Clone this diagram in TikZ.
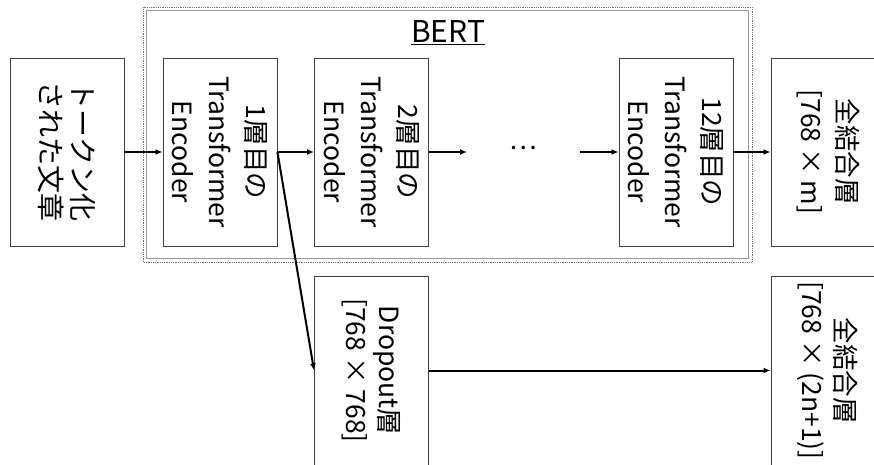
\documentclass[tikz,border=0pt]{standalone}
\usepackage{fontspec}
\setmainfont{Noto Sans CJK JP}
\usetikzlibrary{arrows.meta}
\tikzset{
  box/.style={draw=black!75, line width=0.9pt, rotate=-90, minimum width=188pt, minimum height=114pt, inner sep=0pt, align=center, font=\fontsize{26.5}{37}\selectfont},
  tight/.style={font=\fontsize{26.5}{33}\selectfont},
  arr/.style={line width=2pt, -{Latex[length=7pt,width=6pt]}},
  frame/.style={draw=black!55, line width=0.8pt}
}
\begin{document}
\begin{tikzpicture}[x=1pt,y=1pt]
\useasboundingbox (0,0) rectangle (874,464);
\clip (0,0) rectangle (874,464);
% BERT frame
\draw[frame, densely dotted] (143,202) rectangle (752,457);
\draw[frame, draw=black!40] (146,206) rectangle (748,454);
\node[font=\fontsize{30}{36}\selectfont, inner sep=1pt] (bert) at (448,431) {\underline{BERT}};
% boxes
\node[box, font=\fontsize{28}{32}\selectfont] (tok) at (67,312) {トークン化\\された文章};
\node[box] (enc1) at (220,312) {1層目の\\Transformer\\Encoder};
\node[box] (enc2) at (371.5,312) {2層目の\\Transformer\\Encoder};
\node[box] (enc12) at (676,312) {12層目の\\Transformer\\Encoder};
\node[box, font=\fontsize{26.5}{36}\selectfont] (fc1) at (828,312) {全結合層\\{}[768 × m]};
\node[box, tight, minimum width=189pt] (drop) at (371.5,93.5) {Dropout層\\{}[768 × 768]};
\node[box, tight, minimum width=189pt] (fc2) at (828,93.5) {全結合層\\{}[768 × (2n+1)]};
% dots
\node[font=\fontsize{26}{35}\selectfont, inner sep=0pt] (dots) at (523,316) {…};
\coordinate (c1) at (467,312);
\coordinate (c2) at (580,312);
% arrows
\draw[arr] (tok.north) -- (enc1.south);
\draw[arr] (enc1.north) -- (enc2.south);
\draw[arr] (enc2.north) -- (c1);
\draw[arr] (c2) -- (enc12.south);
\draw[arr] (enc12.north) -- (fc1.south);
\draw[arr] (enc1.north) -- (drop.south);
\draw[arr] (drop.north) -- (fc2.south);
\end{tikzpicture}
\end{document}
